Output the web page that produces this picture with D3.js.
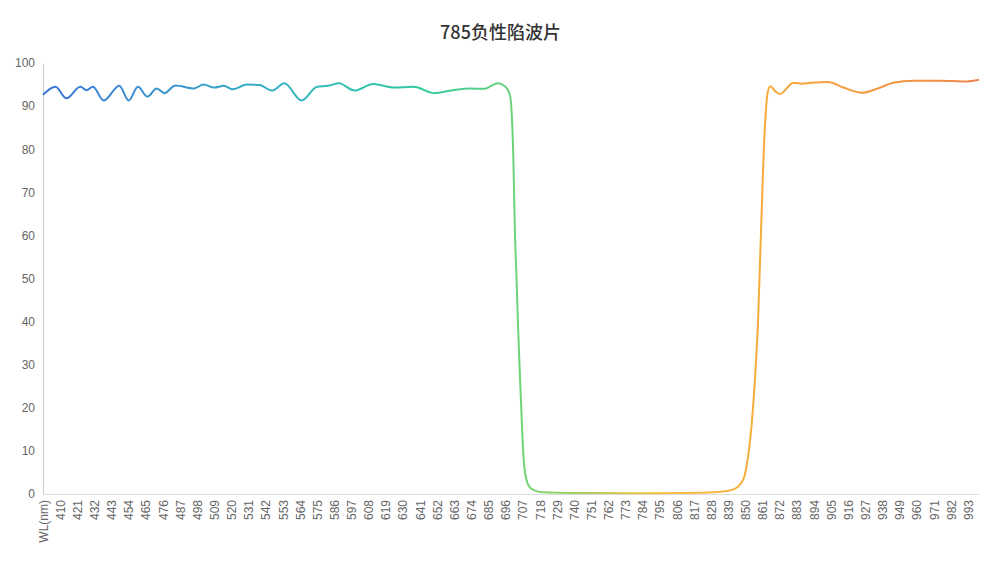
<!DOCTYPE html>
<html>
<head>
<meta charset="utf-8">
<script src="https://cdn.jsdelivr.net/npm/d3@7"></script>
<style>
  html, body { margin: 0; padding: 0; background: #fff; }
  svg { display: block; font-family: "Noto Sans", "Open Sans", sans-serif; }
</style>
</head>
<body>
<div id="chart"></div>
<script>
const title = '785负性陷波片';

// x categories: a header cell followed by every wavelength 400..1000
const categories = ['WL(nm)', ...d3.range(400, 1001).map(String)];
// every 11th category carries a label
const tickLabels = categories.filter((d, i) => i % 11 === 0);
const yTicks = [0, 10, 20, 30, 40, 50, 60, 70, 80, 90, 100];

// readings (wavelength, transmission %)
const wavelengths = ['WL(nm)', 407, 414, 423, 427, 431, 438, 448, 454, 460, 466, 472, 477, 484, 496,
  502, 509, 515, 521, 530, 538, 546, 554, 565, 575, 582, 589, 599, 611, 624, 637, 650, 662, 673, 682,
  691, 696, 699, 700, 701, 702, 703, 704, 705, 706, 707, 708, 709, 710, 712, 715, 720, 740, 780, 810,
  830, 838, 842, 845, 847, 849, 850, 851, 852, 853, 854, 855, 856, 857, 858, 859, 860, 861, 862, 863,
  864, 866, 869, 872, 881, 886, 892, 903, 913, 925, 935, 945, 958, 975, 992, 1000];
const transmission = [92.6, 94.5, 91.8, 94.5, 93.7, 94.5, 91.3, 94.7, 91.3, 94.5, 92.2, 94.1, 93.0, 94.8, 94.1,
  95.0, 94.3, 94.7, 93.9, 95.0, 94.9, 93.6, 95.3, 91.3, 94.5, 94.7, 95.3, 93.6, 95.1, 94.3, 94.5, 93.0, 93.7, 94.1, 94.0,
  95.3, 94.5, 92.2, 88, 78, 61, 50.6, 39.3, 29.5, 20.8, 12, 6.5, 4, 2.6, 1.4, 0.8, 0.4, 0.25, 0.2, 0.25,
  0.4, 0.7, 1.0, 1.6, 2.4, 3.7, 5, 7, 9.4, 12.5, 16, 20.5, 25.7, 32, 39, 49.5, 60.5, 71.5, 81.5, 88,
  92.5, 94.6, 93.5, 92.8, 95.4, 95.2, 95.4, 95.6, 94.3, 93.1, 94.1, 95.4, 95.9, 95.9, 95.7, 96.1];

const gradientStops = [
  [0, '#3b73d9'], [0.25, '#35b3c4'], [0.4, '#31c9a2'], [0.52, '#74d572'],
  [0.65, '#f2c443'], [0.78, '#f7a93a'], [1, '#ef864a']
];

const width = 1001, height = 567;
const margin = { top: 63, right: 22, bottom: 73, left: 43 };

const svg = d3.select('#chart').append('svg')
  .attr('width', width).attr('height', height);

const x = d3.scalePoint()
  .domain(categories)
  .range([margin.left, width - margin.right]);

const y = d3.scaleLinear()
  .domain([0, 100])
  .range([height - margin.bottom, margin.top]);

svg.append('text')
  .attr('x', width / 2)
  .attr('y', 39)
  .attr('text-anchor', 'middle')
  .attr('font-family', '"Noto Sans CJK SC", sans-serif')
  .attr('font-size', 18)
  .attr('font-weight', 500)
  .attr('fill', '#333')
  .text(title);

// y axis
const yAxis = svg.append('g')
  .attr('transform', `translate(${margin.left},0)`)
  .call(d3.axisLeft(y).tickValues(yTicks).tickSize(0).tickPadding(8));
yAxis.select('.domain').attr('stroke', '#ccc');
yAxis.selectAll('text').attr('fill', '#666').attr('font-size', 12);

// x axis
const xAxis = svg.append('g')
  .attr('transform', `translate(0,${height - margin.bottom})`)
  .call(d3.axisBottom(x).tickValues(tickLabels).tickSize(0).tickSizeOuter(0));
xAxis.select('.domain').attr('stroke', '#ddd');
xAxis.selectAll('text')
  .attr('fill', '#666')
  .attr('font-size', 12)
  .attr('transform', 'rotate(-90)')
  .attr('text-anchor', 'end')
  .attr('x', -6)
  .attr('y', 0)
  .attr('dy', '0.35em');

// horizontal colour gradient along the line
const grad = svg.append('defs').append('linearGradient')
  .attr('id', 'lineGrad')
  .attr('gradientUnits', 'userSpaceOnUse')
  .attr('x1', x(categories[0])).attr('x2', x(categories[categories.length - 1]))
  .attr('y1', 0).attr('y2', 0);
grad.selectAll('stop')
  .data(gradientStops)
  .join('stop')
  .attr('offset', (d) => d[0])
  .attr('stop-color', (d) => d[1]);

const points = wavelengths.map((w, i) => ({ w: String(w), v: transmission[i] }));

const line = d3.line()
  .x((d) => x(d.w))
  .y((d) => y(d.v))
  .curve(d3.curveMonotoneX);

svg.append('path')
  .datum(points)
  .attr('fill', 'none')
  .attr('stroke', 'url(#lineGrad)')
  .attr('stroke-width', 2)
  .attr('stroke-linejoin', 'round')
  .attr('d', line);
</script>
</body>
</html>
